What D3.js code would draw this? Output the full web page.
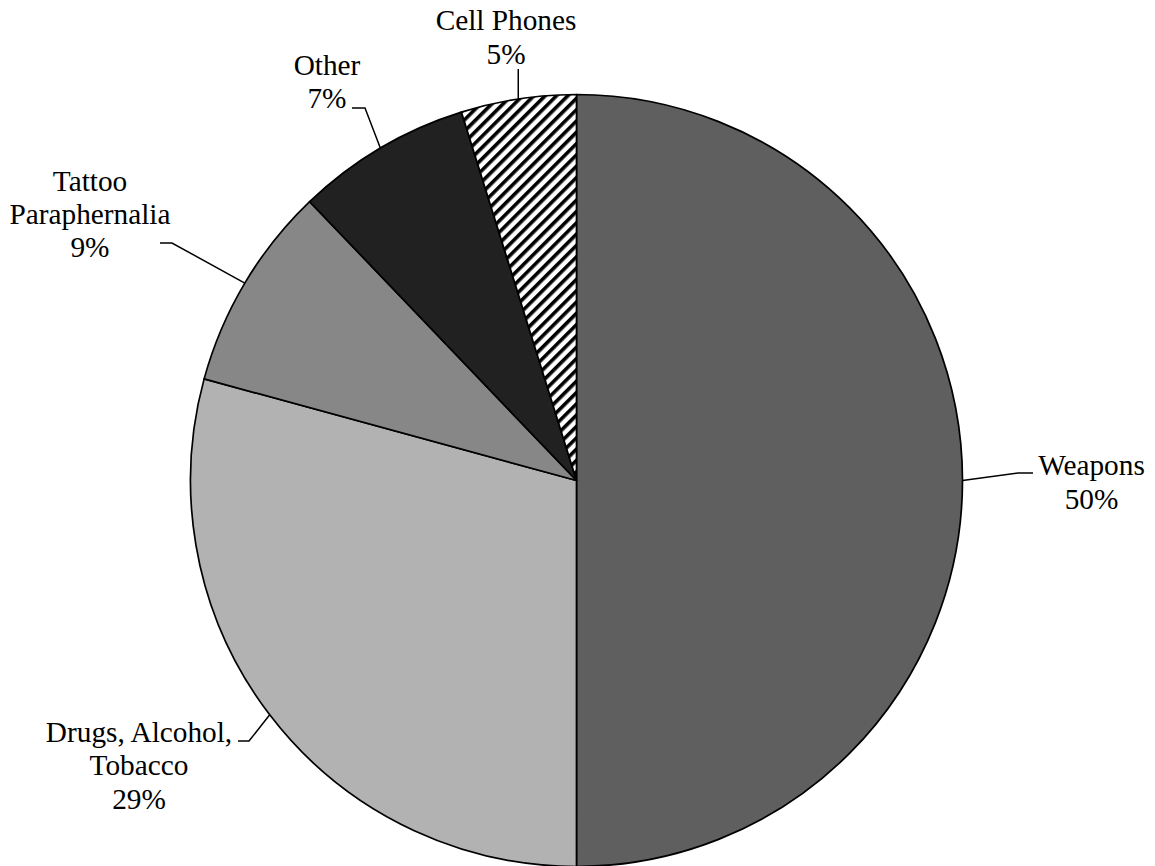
<!DOCTYPE html>
<html><head><meta charset="utf-8">
<script src="https://cdn.jsdelivr.net/npm/d3@7"></script>
<style>html,body{margin:0;padding:0;background:#fff;}</style>
</head><body>
<svg id="chart" width="1155" height="866"></svg>
<script>
// ---- data ----
const categories = ["Weapons", "Drugs, Alcohol, Tobacco", "Tattoo Paraphernalia", "Other", "Cell Phones"];
const values = [50, 29.24, 8.61, 7.33, 4.82];
const labelLines = [["Weapons"], ["Drugs, Alcohol,", "Tobacco"], ["Tattoo", "Paraphernalia"], ["Other"], ["Cell Phones"]];
const fills = ["#5f5f5f", "#b2b2b2", "#878787", "#212121", "url(#hatch)"];

// ---- layout (label block centre relative to pie centre in radius units; leader elbow/end in px relative to label centre) ----
const labelLayout = [
  {tx: 1.3342, ty: 0.0078, elbow: [-73.5, -10.5], end: [-58.5, -10.5]},
  {tx: -1.1334, ty: 0.7422, elbow: [110, -26], end: [99, -26]},
  {tx: -1.2604, ty: -0.6865, elbow: [82, 27.5], end: [70, 27.5]},
  {tx: -0.6464, ty: -1.0298, elbow: [38, 25], end: [25, 25]},
  {tx: -0.1826, ty: -1.1451, elbow: null, end: [12.5, 30.5]}
];

const W = 1155, H = 866;
const cx = 576.5, cy = 480.5, R = 386;
const fontSize = 29.3, lineH = 33.3;

const svg = d3.select("#chart");
const defs = svg.append("defs");
const pat = defs.append("pattern")
  .attr("id", "hatch").attr("patternUnits", "userSpaceOnUse")
  .attr("width", 8).attr("height", 8)
  .attr("patternTransform", "rotate(45)");
pat.append("rect").attr("width", 8).attr("height", 8).attr("fill", "#fff");
pat.append("rect").attr("width", 3.6).attr("height", 8).attr("fill", "#000");

const g = svg.append("g").attr("transform", `translate(${cx},${cy})`);

const total = d3.sum(values);
const pie = d3.pie().sort(null).value(d => d);
const arcs = pie(values);
const arc = d3.arc().innerRadius(0).outerRadius(R);

g.selectAll("path.slice").data(arcs).join("path")
  .attr("class", "slice")
  .attr("d", arc)
  .attr("fill", (d, i) => fills[i])
  .attr("stroke", "#000")
  .attr("stroke-width", 1.7)
  .attr("stroke-linejoin", "round");

const line = d3.line();
arcs.forEach((d, i) => {
  const a = (d.startAngle + d.endAngle) / 2;
  const start = [R * Math.sin(a), -R * Math.cos(a)];
  const L = labelLayout[i];
  const tcx = L.tx * R, tcy = L.ty * R;
  const end = [tcx + L.end[0], tcy + L.end[1]];
  const pts = [start];
  if (L.elbow) pts.push([tcx + L.elbow[0], tcy + L.elbow[1]]);
  else end[0] = start[0];
  pts.push(end);
  g.append("path").attr("d", line(pts))
    .attr("fill", "none").attr("stroke", "#000").attr("stroke-width", 1.5);

  const pct = Math.round(values[i] / total * 100) + "%";
  const lines = labelLines[i].concat([pct]);
  const n = lines.length;
  const t = g.append("text")
    .attr("text-anchor", "middle")
    .attr("font-family", "'Liberation Serif', 'Times New Roman', serif")
    .attr("font-size", fontSize)
    .attr("fill", "#000");
  lines.forEach((s, j) => {
    t.append("tspan")
      .attr("x", tcx)
      .attr("y", tcy + (j - (n - 1) / 2) * lineH + fontSize * 0.29)
      .text(s);
  });
});
</script>
</body></html>
